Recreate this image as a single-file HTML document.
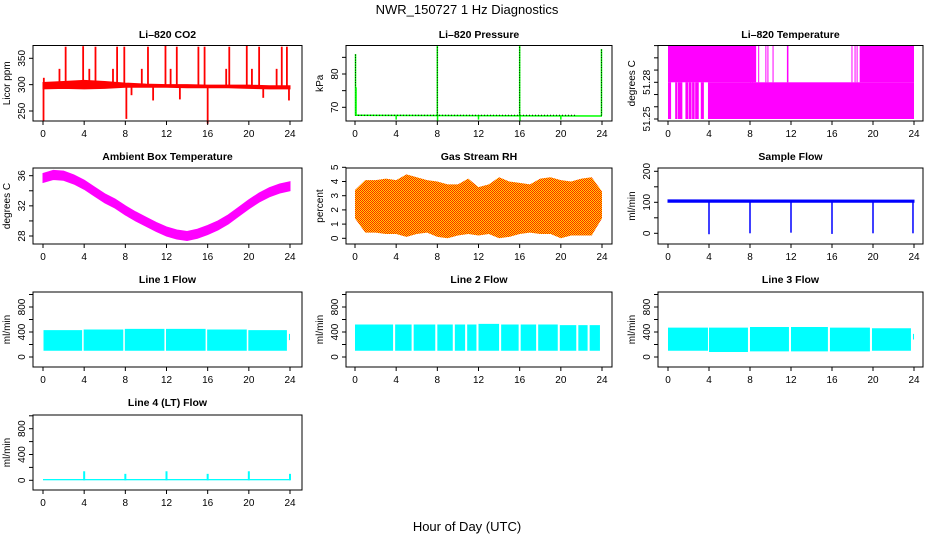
<!DOCTYPE html>
<html><head><meta charset="utf-8"><style>
html,body{margin:0;padding:0;background:#fff;}
svg{display:block;font-family:"Liberation Sans",sans-serif;}
</style></head><body>
<svg id="fig" width="936" height="540" viewBox="0 0 936 540" xmlns="http://www.w3.org/2000/svg">
<defs><pattern id="rhpat" width="2" height="2" patternUnits="userSpaceOnUse"><rect width="2" height="2" fill="#ffd800"/><rect width="1" height="1" fill="#ff2000"/><rect x="1" y="1" width="1" height="1" fill="#ff2000"/></pattern></defs>
<text x="467" y="14" font-size="13" text-anchor="middle">NWR_150727  1 Hz Diagnostics</text>
<text x="467" y="531" font-size="13" text-anchor="middle">Hour of Day (UTC)</text>
</svg>
<script>
// ---------- data ----------
const xTicks = [0,4,8,12,16,20,24];
// CO2
const co2BandT = [0,2,4,6,8,10,12,14,16,18,20,22,24];
const co2BandLo = [292,293,292,293,295,295,295,294,294,294,293,292,292];
const co2BandHi = [304,306,308,306,303,301,300,300,299,299,299,298,298];
const co2SpikeT = [0.05,0.08,1.6,2.2,3.9,4.5,5.1,6.8,7.2,7.9,8.1,8.6,9.6,10.2,10.7,11.9,12.4,13.0,13.3,15.1,15.7,16.0,17.8,18.1,19.8,20.3,21.0,21.4,22.7,23.2,23.7,23.9];
const co2SpikeV = [232,313,330,372,373,330,372,330,372,372,235,280,330,372,270,375,330,372,272,372,372,226,330,372,375,330,372,275,330,372,372,270];
// Pressure
const presBaseT = [0,24];
const presBaseV = [67.6,67.4];
const presSpikeT = [0.05,0.1,4,8,8.02,12,16,16.03,20,23.95];
const presSpikeV = [86,76,66.3,88.5,66,66.3,88.5,66,66.3,87.5];
// Li-820 temperature
const ltUpperStart = [0,18.7,8.0,8.2,8.8,9.5,9.7,10.2,11.6,17.9,18.2,18.4];
const ltUpperEnd   = [8.6,24,8.05,8.25,8.85,9.55,9.75,10.25,11.75,17.95,18.25,18.45];
const ltLowerStart = [0,0.7,0.95,1.7,2.05,2.35,2.65,3.2,3.9];
const ltLowerEnd   = [0.3,0.9,1.4,2.0,2.3,2.6,3.0,3.5,24];
const ltLevels = [51.25,51.28,51.31];
// Ambient box temperature
const ambT = [0,1,2,3,4,5,6,7,8,9,10,11,12,13,14,15,16,17,18,19,20,21,22,23,24];
const ambV = [35.7,36.1,36.0,35.5,34.8,33.9,33.0,32.3,31.4,30.6,29.9,29.2,28.6,28.2,28.0,28.3,28.8,29.4,30.2,31.2,32.2,33.1,33.8,34.3,34.6];
// Gas stream RH
const rhT = [0,1,2,3,4,5,6,7,8,9,10,11,12,13,14,15,16,17,18,19,20,21,22,23,24];
const rhHi = [3.4,4.1,4.1,4.2,4.1,4.5,4.3,4.1,4.0,3.8,3.8,4.2,3.6,3.8,4.3,4.0,3.9,3.8,4.2,4.3,4.1,4.0,4.2,4.3,3.3];
const rhLo = [1.4,0.4,0.4,0.3,0.3,0.1,0.3,0.4,0.1,0.0,0.2,0.3,0.2,0.3,0.0,0.1,0.3,0.4,0.3,0.3,0.0,0.2,0.2,0.2,1.4];
// Sample flow
const sfBandT = [0,24];
const sfBandLo = [100,100];
const sfBandHi = [108,107];
const sfDropT = [4,8,12,16,20,23.9];
const sfDropV = [-3,0,2,-2,0,0];
// Line flows: segments
const l1Start = [0.05,3.95,7.95,11.95,15.95,19.95,23.9];
const l1End   = [3.8,7.8,11.8,15.8,19.8,23.7,24];
const l1Lo    = [100,100,100,100,100,100,270];
const l1Hi    = [430,440,450,450,440,430,370];
const l2Start = [0,3.9,5.7,8.0,9.7,10.9,12.0,14.2,16.1,17.8,19.9,21.7,22.8];
const l2End   = [3.7,5.5,7.8,9.5,10.7,11.8,14.0,15.9,17.6,19.7,21.5,22.6,23.8];
const l2Lo    = [100,100,100,100,100,100,100,100,100,100,100,100,100];
const l2Hi    = [520,520,520,520,520,520,530,520,520,520,510,510,510];
const l3Start = [0,4.0,8.0,12.0,15.8,19.9,23.9];
const l3End   = [3.9,7.8,11.8,15.6,19.7,23.7,24];
const l3Lo    = [100,80,90,90,90,100,280];
const l3Hi    = [470,470,480,480,470,460,370];
// Line 4 flow
const l4Base = [0,20];
const l4SpikeT = [4,8,12,16,20,24];
const l4SpikeV = [140,100,140,100,140,100];

// ---------- drawing ----------
const NS = 'http://www.w3.org/2000/svg';
const svg = document.getElementById('fig');
function mk(tag, attrs, parent, name) {
  const el = document.createElementNS(NS, tag);
  for (const k in attrs) el.setAttribute(k, attrs[k]);
  
  
  (parent || svg).appendChild(el);
  return el;
}
const cols = [{bl:33,br:302,x0:43,x24:290},{bl:346,br:612,x0:355,x24:602},{bl:658,br:923,x0:668,x24:914}];
const rows = [{bt:45.5,bb:121,ty:38},{bt:168,bb:244,ty:160},{bt:292,bb:367,ty:283},{bt:415,bb:490,ty:406}];
function makePanel(name, title, ytitle, c, r, v1, p1, v2, p2, yticks, ylabels) {
  const C = cols[c], R = rows[r];
  const g = mk('g', {}, svg, name);
  const X = t => C.x0 + (C.x24 - C.x0) * t / 24;
  const Y = v => p1 + (p2 - p1) * (v - v1) / (v2 - v1);
  const dg = mk('g', {}, g, name + '-series');
  mk('text', {x:(C.bl+C.br)/2, y:R.ty, 'font-size':10.5, 'font-weight':'bold', 'text-anchor':'middle'}, g, name + '-title').textContent = title;
  mk('rect', {x:C.bl, y:R.bt, width:C.br-C.bl, height:R.bb-R.bt, fill:'none', stroke:'#000', 'stroke-width':1}, g, name + '-frame');
  const xa = mk('g', {}, g, name + '-x-axis');
  mk('line', {x1:X(0), x2:X(24), y1:R.bb, y2:R.bb, stroke:'#000'}, xa, 'x-axis-line');
  xTicks.forEach(t => {
    mk('line', {x1:X(t), x2:X(t), y1:R.bb, y2:R.bb+4, stroke:'#000'}, xa, 'x-tick');
    mk('text', {x:X(t), y:R.bb+16, 'font-size':10, 'text-anchor':'middle'}, xa, 'x-tick-label').textContent = t;
  });
  const ya = mk('g', {}, g, name + '-y-axis');
  mk('line', {x1:C.bl, x2:C.bl, y1:Y(yticks[0]), y2:Y(yticks[yticks.length-1]), stroke:'#000'}, ya, 'y-axis-line');
  yticks.forEach(v => mk('line', {x1:C.bl-4, x2:C.bl, y1:Y(v), y2:Y(v), stroke:'#000'}, ya, 'y-tick'));
  ylabels.forEach(v => {
    const tx = C.bl - 8, ty = Y(v);
    mk('text', {x:tx, y:ty, 'font-size':10, 'text-anchor':'middle', transform:`rotate(-90 ${tx} ${ty})`}, ya, 'y-tick-label').textContent = v;
  });
  const tx = C.bl - 23, ty = (R.bt + R.bb) / 2;
  mk('text', {x:tx, y:ty, 'font-size':10, 'text-anchor':'middle', transform:`rotate(-90 ${tx} ${ty})`}, g, name + '-y-title').textContent = ytitle;
  return {X, Y, g: dg};
}
function band(P, ts, lo, hi, fill, name) {
  let d = ts.map((t,i)=>`${i?'L':'M'}${P.X(t)},${P.Y(hi[i])}`).join('');
  for (let i = ts.length-1; i >= 0; i--) d += `L${P.X(ts[i])},${P.Y(lo[i])}`;
  mk('path', {d: d + 'Z', fill: fill, stroke: fill === 'url(#rhpat)' ? 'none' : fill, 'stroke-width':1}, P.g, name);
}
function seg(P, t1, t2, v1, v2, fill, name) {
  const x1 = P.X(t1), x2 = Math.max(P.X(t2), x1 + 1);
  mk('rect', {x:x1, y:Math.min(P.Y(v1),P.Y(v2)), width:x2-x1, height:Math.abs(P.Y(v2)-P.Y(v1)), fill:fill}, P.g, name);
}
function vline(P, t, v1, v2, color, w, name) {
  mk('line', {x1:P.X(t), x2:P.X(t), y1:P.Y(v1), y2:P.Y(v2), stroke:color, 'stroke-width':w}, P.g, name);
}

// CO2
let P = makePanel('co2-panel','Li\u2013820 CO2','Licor ppm',0,0,250,111,350,58.3,[250,300,350],[250,300,350]);
band(P, co2BandT, co2BandLo, co2BandHi, '#ff0000', 'co2-band');
co2SpikeT.forEach((t,i)=>vline(P, t, 298, co2SpikeV[i], '#ff0000', 1.8, 'co2-spike'));
// Pressure
P = makePanel('pressure-panel','Li\u2013820 Pressure','kPa',1,0,70,107.3,80,74,[70,75,80,85],[70,80]);
mk('line', {x1:P.X(presBaseT[0]), x2:P.X(presBaseT[1]), y1:P.Y(presBaseV[0]), y2:P.Y(presBaseV[1]), stroke:'#00ff00', 'stroke-width':1.5}, P.g, 'pressure-line');
mk('line', {x1:P.X(presBaseT[0]), x2:P.X(21.5), y1:P.Y(presBaseV[0]), y2:P.Y(presBaseV[0]), stroke:'#000', 'stroke-width':1, 'stroke-dasharray':'1 2'}, P.g, 'pressure-dots');
presSpikeT.forEach((t,i)=>{
  vline(P, t, 67.5, presSpikeV[i], '#00ff00', 1.5, 'pressure-spike');
  if (presSpikeV[i] > 80) mk('line', {x1:P.X(t), x2:P.X(t), y1:P.Y(67.5), y2:P.Y(presSpikeV[i]), stroke:'#000', 'stroke-width':1, 'stroke-dasharray':'1 1.5'}, P.g, 'pressure-spike-dots');
});
// Li-820 temperature
P = makePanel('li820-temp-panel','Li\u2013820 Temperature','degrees C',2,0,51.25,119,51.28,82.3,[51.25,51.26,51.27,51.28,51.29,51.30,51.31],[51.25,51.28]);
ltUpperStart.forEach((s,i)=>seg(P, s, ltUpperEnd[i], ltLevels[1], ltLevels[2], '#ff00ff', 'li820-temp-upper'));
ltLowerStart.forEach((s,i)=>seg(P, s, ltLowerEnd[i], ltLevels[0], ltLevels[1], '#ff00ff', 'li820-temp-lower'));
// Ambient
P = makePanel('ambient-temp-panel','Ambient Box Temperature','degrees C',0,1,28,236,36,175.7,[28,30,32,34,36],[28,32,36]);
band(P, ambT, ambV.map(v=>v-0.6), ambV.map(v=>v+0.6), '#ff00ff', 'ambient-temp-band');
// RH
P = makePanel('rh-panel','Gas Stream RH','percent',1,1,0,238.3,5,167.3,[0,1,2,3,4,5],[0,1,2,3,4,5]);
band(P, rhT, rhLo, rhHi, 'url(#rhpat)', 'rh-band');
// Sample flow
P = makePanel('sample-flow-panel','Sample Flow','ml/min',2,1,0,233.3,100,202.3,[0,50,100,150,200],[0,100,200]);
band(P, sfBandT, sfBandLo, sfBandHi, '#0000ff', 'sample-flow-band');
sfDropT.forEach((t,i)=>vline(P, t, 103, sfDropV[i], '#0000ff', 1.5, 'sample-flow-drop'));
// Line flows
const flowTicks = [0,200,400,600,800,1000], flowLabels = [0,400,800];
P = makePanel('line1-flow-panel','Line 1 Flow','ml/min',0,2,0,357,800,307,flowTicks,flowLabels);
l1Start.forEach((s,i)=>seg(P, s, l1End[i], l1Lo[i], l1Hi[i], '#00ffff', 'line1-flow-segment'));
P = makePanel('line2-flow-panel','Line 2 Flow','ml/min',1,2,0,357,800,307,flowTicks,flowLabels);
l2Start.forEach((s,i)=>seg(P, s, l2End[i], l2Lo[i], l2Hi[i], '#00ffff', 'line2-flow-segment'));
P = makePanel('line3-flow-panel','Line 3 Flow','ml/min',2,2,0,357,800,307,flowTicks,flowLabels);
l3Start.forEach((s,i)=>seg(P, s, l3End[i], l3Lo[i], l3Hi[i], '#00ffff', 'line3-flow-segment'));
P = makePanel('line4-flow-panel','Line 4 (LT) Flow','ml/min',0,3,0,480.3,800,428.7,flowTicks,flowLabels);
seg(P, 0, 24, l4Base[0], l4Base[1], '#00ffff', 'line4-flow-base');
l4SpikeT.forEach((t,i)=>vline(P, t, 0, l4SpikeV[i], '#00ffff', 2, 'line4-flow-spike'));
</script>
</body></html>
